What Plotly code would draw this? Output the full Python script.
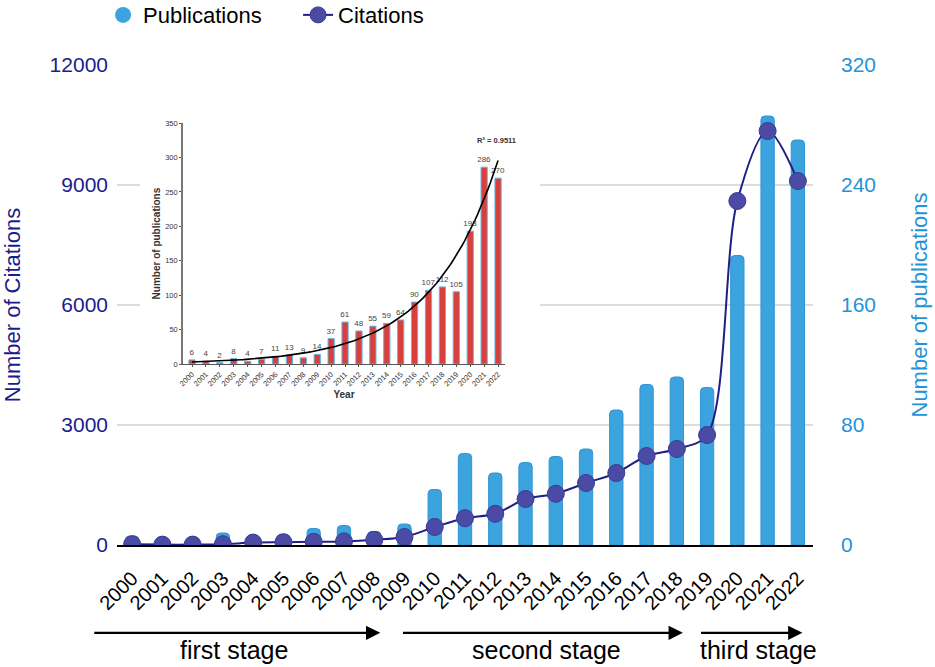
"""Publications and citations per year, with inset trend chart."""

import numpy as np
import plotly.graph_objects as go

years = [str(y) for y in range(2000, 2023)]
publications = [6, 4, 2, 8, 4, 7, 11, 13, 9, 14, 37, 61, 48, 55, 59, 64,
                90, 107, 112, 105, 193, 286, 270]
citations = [20, 10, 10, 20, 60, 70, 80, 90, 130, 200, 450, 670, 780, 1150,
             1280, 1550, 1800, 2225, 2400, 2750, 8600, 10350, 9100]

left_ticks = [0, 3000, 6000, 9000, 12000]
right_ticks = [0, 80, 160, 240, 320]
inset_ticks = [0, 50, 100, 150, 200, 250, 300, 350]

# stage arrows: (label, arrow start, arrow end, label centre) in category index units
stages = [
    ("first stage", -1.3, 8.2, 3.35),
    ("second stage", 8.9, 18.2, 13.7),
    ("third stage", 18.75, 22.15, 20.7),
]

FONT = "Arial, Liberation Sans, sans-serif"
BAR_BLUE = "#3ba3dd"
NAVY = "#1c1c8c"
RIGHT_BLUE = "#2492da"

# exponential trend for the inset (log-linear fit, like a spreadsheet trendline)
yr_num = np.arange(2000, 2023)
slope, icpt = np.polyfit(yr_num, np.log(publications), 1)
trend_x = np.linspace(2000, 2022, 120)
trend_y = np.exp(icpt + slope * trend_x)

fig = go.Figure()

# legend stand-in so publications show a round symbol
fig.add_trace(go.Scatter(
    x=[None], y=[None], mode="markers", name="Publications",
    marker=dict(symbol="circle", size=22, color=BAR_BLUE),
    xaxis="x", yaxis="y",
))
fig.add_trace(go.Bar(
    x=years, y=publications, name="Publications", showlegend=False,
    marker=dict(color=BAR_BLUE, line=dict(color="#2f95d4", width=1), cornerradius=4),
    width=0.44, xaxis="x", yaxis="y",
))
fig.add_trace(go.Scatter(
    x=years, y=citations, name="Citations", mode="lines+markers",
    line=dict(color="#1f1f85", width=2, shape="spline", smoothing=0.9),
    marker=dict(size=17, color="#4b4ba5", line=dict(color="#3a3a95", width=1)),
    xaxis="x", yaxis="y2",
))

# white card behind the inset (its own subplot so it hides the main grid)
fig.add_trace(go.Scatter(
    x=[None], y=[None], showlegend=False, xaxis="x3", yaxis="y3",
))

# inset
fig.add_trace(go.Bar(
    x=yr_num, y=publications, showlegend=False, width=0.45,
    marker=dict(color="#d9403b", line=dict(color="#62b6e8", width=1)),
    text=publications, textposition="outside", constraintext="none",
    textfont=dict(size=8, color="#444444", family=FONT), cliponaxis=False,
    xaxis="x4", yaxis="y4",
))
fig.add_trace(go.Scatter(
    x=trend_x, y=trend_y, mode="lines", showlegend=False,
    line=dict(color="black", width=1.6), xaxis="x4", yaxis="y4",
))

annotations = []
for label, x0, x1, xc in stages:
    annotations.append(dict(
        x=x1, y=-0.183, xref="x", yref="paper",
        ax=x0, ay=0, axref="x", ayref="pixel",
        text="", showarrow=True, arrowhead=2, arrowsize=1.3,
        arrowwidth=2.2, arrowcolor="black",
    ))
    annotations.append(dict(
        x=xc, y=-0.218, xref="x", yref="paper",
        text=label, showarrow=False, yanchor="middle",
        font=dict(size=25, color="black", family=FONT),
    ))
annotations.append(dict(
    x=2021.9, y=325, xref="x4", yref="y4", text="<b>R² = 0.9511</b>",
    showarrow=False, font=dict(size=7.5, color="#333333", family=FONT),
))

fig.update_layout(
    width=935, height=667,
    margin=dict(l=117, r=122, t=65, b=122, autoexpand=False),
    paper_bgcolor="white", plot_bgcolor="white",
    font=dict(family=FONT, color="black"),
    showlegend=True,
    legend=dict(
        orientation="h", x=-0.02, y=1.104, xanchor="left", yanchor="middle",
        font=dict(size=22, color="black"), itemsizing="trace",
        entrywidth=150, bgcolor="rgba(0,0,0,0)",
    ),
    annotations=annotations,
    xaxis=dict(
        type="category", range=[-0.5, 22.5], domain=[0, 1],
        tickangle=-45, tickfont=dict(size=20, color="black"),
        showline=True, linecolor="black", linewidth=1.5,
        showgrid=False, ticks="", anchor="y", automargin=False,
        ticklabelstandoff=12,
    ),
    yaxis=dict(
        side="right", range=[0, 320], tickvals=right_ticks,
        tickfont=dict(size=21, color=RIGHT_BLUE),
        title=dict(text="Number of publications", standoff=36,
                   font=dict(size=22, color=RIGHT_BLUE)),
        showgrid=True, gridcolor="#dcdcdc", gridwidth=1.5,
        zeroline=False, showline=False, ticklabelstandoff=27,
        automargin=False,
    ),
    yaxis2=dict(
        side="left", overlaying="y", range=[0, 12000], tickvals=left_ticks,
        ticktext=[str(v) for v in left_ticks],
        tickfont=dict(size=21, color=NAVY),
        title=dict(text="Number of Citations", standoff=40,
                   font=dict(size=22, color=NAVY)),
        showgrid=False, zeroline=False, showline=False,
        ticklabelstandoff=8, automargin=False,
    ),
    xaxis3=dict(domain=[0.033, 0.608], anchor="y3", visible=False,
                range=[0, 1], automargin=False),
    yaxis3=dict(domain=[0.302, 0.906], anchor="x3", visible=False,
                range=[0, 1], automargin=False),
    xaxis4=dict(
        domain=[0.0948, 0.5575], anchor="y4", range=[1999.35, 2022.5],
        tickvals=list(yr_num), ticktext=years, tickangle=-45,
        tickfont=dict(size=7.5, color="#333333"),
        showline=True, linecolor="#555555", linewidth=1,
        ticks="outside", ticklen=2, tickcolor="#555555",
        showgrid=False, zeroline=False,
        title=dict(text="<b>Year</b>", standoff=3,
                   font=dict(size=10, color="#333333")),
        automargin=False,
    ),
    yaxis4=dict(
        domain=[0.377, 0.879], anchor="x4", range=[0, 350],
        tickvals=inset_ticks, tickfont=dict(size=7.5, color="#333333"),
        showline=True, linecolor="#777777", linewidth=1.5,
        ticks="outside", ticklen=2, tickcolor="#555555",
        showgrid=False, zeroline=False,
        title=dict(text="<b>Number of publications</b>", standoff=3,
                   font=dict(size=10, color="#333333")),
        automargin=False,
    ),
)

# drop the page's default body margin so the figure sits at the window corner
fig.write_html(
    "out.html",
    config={"displayModeBar": False},
    post_script="document.body.style.margin = '0';",
)
